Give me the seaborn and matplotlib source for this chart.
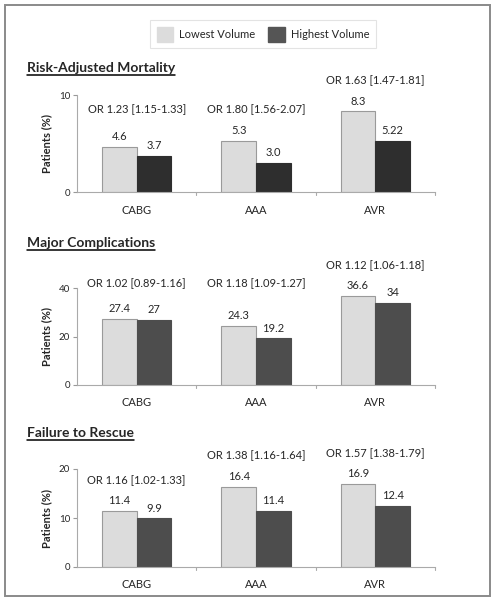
import pandas as pd
import matplotlib
matplotlib.use("Agg")
import matplotlib.pyplot as plt
from matplotlib.patches import Patch, Rectangle
import seaborn as sns

# data
procedures = ["CABG", "AAA", "AVR"]
groups = ["Lowest Volume", "Highest Volume"]

mortality_low = [4.6, 5.3, 8.3]
mortality_high = [3.7, 3.0, 5.22]
mortality_lbl_low = ["4.6", "5.3", "8.3"]
mortality_lbl_high = ["3.7", "3.0", "5.22"]
mortality_or = ["OR 1.23 [1.15-1.33]", "OR 1.80 [1.56-2.07]", "OR 1.63 [1.47-1.81]"]

complic_low = [27.4, 24.3, 36.6]
complic_high = [27, 19.2, 34]
complic_lbl_low = ["27.4", "24.3", "36.6"]
complic_lbl_high = ["27", "19.2", "34"]
complic_or = ["OR 1.02 [0.89-1.16]", "OR 1.18 [1.09-1.27]", "OR 1.12 [1.06-1.18]"]

ftr_low = [11.4, 16.4, 16.9]
ftr_high = [9.9, 11.4, 12.4]
ftr_lbl_low = ["11.4", "16.4", "16.9"]
ftr_lbl_high = ["9.9", "11.4", "12.4"]
ftr_or = ["OR 1.16 [1.02-1.33]", "OR 1.38 [1.16-1.64]", "OR 1.57 [1.38-1.79]"]

sns.set_style("white")
plt.rcParams["font.family"] = ["Lato", "DejaVu Sans"]

light = "#dcdcdc"
W, H = 495, 600
fig = plt.figure(figsize=(W / 100, H / 100), dpi=100)

# outer frame
fig.patches.append(Rectangle((5 / W, 4 / H), 485 / W, 591 / H, transform=fig.transFigure,
                             fill=False, edgecolor="#8a8a8a", lw=1.4))

# title, lows, highs, labels, OR text, ymax, ticks, px of y=0, px of y=ymax, title px,
# dark colour, floor (fraction of ymax) for the OR text
panels = [
    ("Risk-Adjusted Mortality", mortality_low, mortality_high, mortality_lbl_low,
     mortality_lbl_high, mortality_or, 10, [0, 10], 192, 95, 68, "#2e2e2e", 0.53),
    ("Major Complications", complic_low, complic_high, complic_lbl_low,
     complic_lbl_high, complic_or, 40, [0, 20, 40], 385, 288, 243, "#4d4d4d", 0.73),
    ("Failure to Rescue", ftr_low, ftr_high, ftr_lbl_low,
     ftr_lbl_high, ftr_or, 20, [0, 10, 20], 567, 469, 433, "#4d4d4d", 0.53),
]

for (title, low, high, lbl_low, lbl_high, ors, ymax, yticks, y0, y1, ty, dark,
     floor) in panels:
    ax = fig.add_axes([77 / W, 1 - y0 / H, 358 / W, (y0 - y1) / H])
    df = pd.DataFrame({
        "proc": procedures * 2,
        "group": [groups[0]] * 3 + [groups[1]] * 3,
        "val": low + high,
    })
    sns.barplot(data=df, x="proc", y="val", hue="group", order=procedures,
                hue_order=groups, palette=[light, dark], width=0.58,
                edgecolor="#9a9a9a", linewidth=0.8, legend=False, ax=ax)
    for bar in ax.patches[3:]:
        bar.set_edgecolor(dark)
    ax.set_ylim(0, ymax)
    ax.set_xlim(-0.5, 2.5)
    ax.set_yticks(yticks)
    ax.tick_params(axis="y", labelsize=7, length=3, color="#999999", direction="out",
                   left=True, pad=2)
    ax.tick_params(axis="x", labelsize=8, length=0, pad=9)
    ax.set_xlabel("")
    ax.set_ylabel("Patients (%)", fontsize=8, fontweight="bold", labelpad=5)
    for s in ["top", "right"]:
        ax.spines[s].set_visible(False)
    for s in ["left", "bottom"]:
        ax.spines[s].set_color("#aaaaaa")
        ax.spines[s].set_linewidth(0.8)
    # category separator ticks on the x axis
    for xb in [0.5, 1.5, 2.5]:
        ax.plot([xb, xb], [0, -0.035 * ymax], color="#aaaaaa", lw=0.8, clip_on=False)

    for i in range(3):
        lb = ax.patches[i]
        hb = ax.patches[i + 3]
        ax.annotate(lbl_low[i], (lb.get_x() + lb.get_width() / 2, lb.get_height()),
                    xytext=(0, 7.5), textcoords="offset points", ha="center",
                    va="center", fontsize=8)
        ax.annotate(lbl_high[i], (hb.get_x() + hb.get_width() / 2, hb.get_height()),
                    xytext=(0, 7.5), textcoords="offset points", ha="center",
                    va="center", fontsize=8)
        top = max(low[i], high[i], floor * ymax)
        ax.annotate(ors[i], (i, top), xytext=(0, 22), textcoords="offset points",
                    ha="center", va="center", fontsize=8, annotation_clip=False)

    t = fig.text(27 / W, 1 - ty / H, title, fontsize=10, fontweight="bold",
                 va="center", ha="left")
    fig.canvas.draw()
    bb = t.get_window_extent()
    fig.add_artist(plt.Line2D([bb.x0 / W, bb.x1 / W], [(bb.y0 - 1) / H, (bb.y0 - 1) / H],
                              transform=fig.transFigure, color="black", lw=1.1))

handles = [Patch(facecolor=light, edgecolor=light), Patch(facecolor="#555555", edgecolor="#555555")]
leg = fig.legend(handles, groups, loc="center", bbox_to_anchor=(263 / W, 1 - 34 / H),
                 ncol=2, fontsize=8, frameon=True, fancybox=False, edgecolor="#dddddd",
                 handlelength=1.5, handleheight=1.7, columnspacing=1.2, borderpad=0.6,
                 handletextpad=0.5)
leg.get_frame().set_linewidth(0.8)

fig.savefig("out.png", dpi=100)
